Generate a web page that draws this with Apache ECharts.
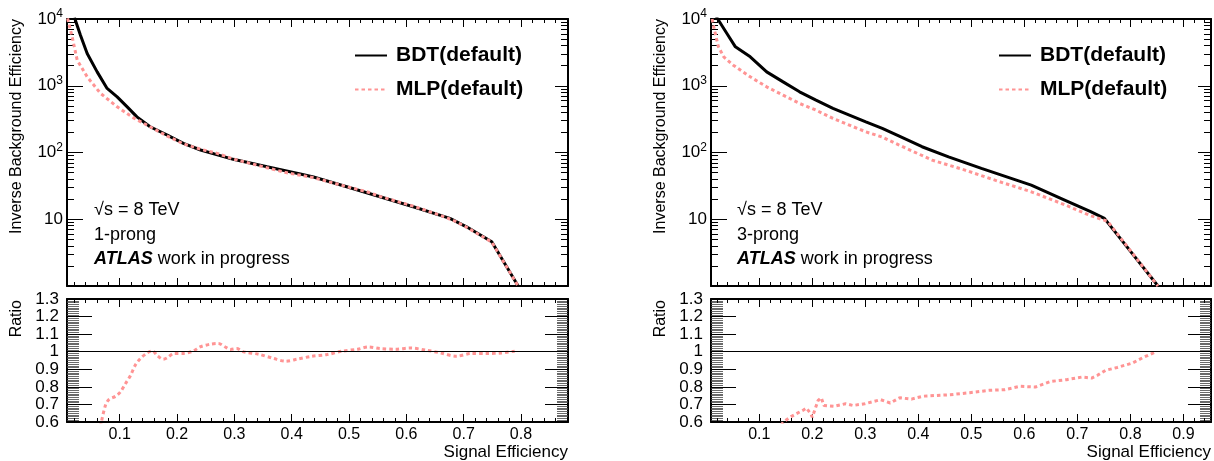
<!DOCTYPE html>
<html>
<head>
<meta charset="utf-8">
<script src="https://cdn.jsdelivr.net/npm/echarts@6/dist/echarts.min.js"></script>
<style>
html, body { margin: 0; padding: 0; background: #fff; }
#chart { width: 1214px; height: 461px; }
</style>
</head>
<body>
<div id="chart"></div>
<script>
// ---- data ----
// 1-prong
const bdt1Eff = [0.021, 0.0315, 0.0432, 0.0606, 0.078, 0.0955, 0.113, 0.130, 0.153, 0.183, 0.211, 0.241, 0.298, 0.357, 0.415, 0.438, 0.496, 0.554, 0.612, 0.676, 0.705, 0.749, 0.795];
const bdt1Rej = [10500, 5720, 3040, 1615, 911, 682, 483, 342, 243, 182, 137, 109, 79, 61, 47.5, 43, 30.7, 21.7, 15.4, 10.3, 7.7, 4.6, 1.0];
const mlp1Eff = [0.009, 0.017, 0.0258, 0.0432, 0.0664, 0.0955, 0.124, 0.153, 0.183, 0.211, 0.241, 0.27, 0.298, 0.357, 0.39, 0.438, 0.496, 0.534, 0.554, 0.612, 0.66, 0.687, 0.705, 0.749, 0.795];
const mlp1Rej = [10200, 5400, 2420, 1360, 770, 483, 330, 243, 176, 135, 112, 97, 80, 59, 50, 42, 30.8, 25.4, 22, 15.7, 11.4, 9.2, 7.6, 4.55, 1.0];
const ratio1Eff = [0.062, 0.068, 0.075, 0.081, 0.0925, 0.101, 0.11, 0.119, 0.127, 0.136, 0.148, 0.157, 0.165, 0.176, 0.185, 0.194, 0.211, 0.229, 0.24, 0.258, 0.272, 0.284, 0.293, 0.304, 0.316, 0.342, 0.369, 0.389, 0.409, 0.435, 0.462, 0.488, 0.515, 0.534, 0.554, 0.581, 0.607, 0.634, 0.66, 0.687, 0.713, 0.74, 0.766, 0.789];
const ratio1Val = [0.5, 0.6, 0.694, 0.727, 0.746, 0.77, 0.818, 0.866, 0.923, 0.961, 0.993, 1.005, 0.98, 0.957, 0.97, 0.99, 0.99, 1.005, 1.027, 1.043, 1.047, 1.027, 1.013, 1.018, 0.999, 0.986, 0.961, 0.946, 0.957, 0.974, 0.984, 1.003, 1.014, 1.027, 1.018, 1.014, 1.021, 1.009, 0.993, 0.974, 0.99, 0.99, 0.993, 1.003];

// 3-prong
const bdt3Eff = [0.019, 0.039, 0.055, 0.083, 0.114, 0.145, 0.176, 0.207, 0.239, 0.27, 0.301, 0.332, 0.363, 0.407, 0.457, 0.519, 0.613, 0.676, 0.725, 0.751, 0.852];
const bdt3Rej = [10800, 6070, 3830, 2710, 1615, 1143, 811, 609, 457, 363, 288, 229, 177, 122, 86, 57.8, 32.5, 19.4, 13, 10.3, 1.0];
const mlp3Eff = [0.011, 0.017, 0.023, 0.033, 0.051, 0.083, 0.114, 0.145, 0.176, 0.207, 0.239, 0.27, 0.301, 0.332, 0.363, 0.426, 0.488, 0.551, 0.613, 0.676, 0.725, 0.757, 0.852];
const mlp3Rej = [10000, 6070, 3830, 2710, 2034, 1360, 963, 723, 543, 431, 324, 257, 204, 170, 130, 77, 54.5, 37, 25.8, 16.5, 11.3, 9.3, 1.0];
const ratio3Eff = [0.135, 0.1455, 0.16, 0.182, 0.189, 0.197, 0.2, 0.211, 0.217, 0.222, 0.241, 0.263, 0.277, 0.299, 0.329, 0.347, 0.365, 0.387, 0.409, 0.46, 0.497, 0.533, 0.563, 0.592, 0.621, 0.65, 0.68, 0.709, 0.727, 0.738, 0.753, 0.775, 0.804, 0.826, 0.848];
const ratio3Val = [0.55, 0.6, 0.631, 0.666, 0.679, 0.647, 0.627, 0.723, 0.738, 0.694, 0.689, 0.704, 0.694, 0.704, 0.727, 0.708, 0.738, 0.730, 0.747, 0.755, 0.767, 0.78, 0.784, 0.803, 0.799, 0.831, 0.841, 0.856, 0.85, 0.866, 0.894, 0.91, 0.936, 0.97, 0.999];

const xTicks1 = [0.1, 0.2, 0.3, 0.4, 0.5, 0.6, 0.7, 0.8];
const xTicks3 = [0.1, 0.2, 0.3, 0.4, 0.5, 0.6, 0.7, 0.8, 0.9];
const seriesNames = ['BDT(default)', 'MLP(default)'];

// ---- styling ----
const FONT = '"Liberation Sans", Arial, Helvetica, sans-serif';
const PINK = '#ff9494';

const panels = [
    { left: 67, width: 501, xMin: 0.008, xMax: 0.882, majors: xTicks1, prong: '1-prong', textX: 94, titleX: 17, legendX: 354,
      bdt: [bdt1Eff, bdt1Rej], mlp: [mlp1Eff, mlp1Rej], ratio: [ratio1Eff, ratio1Val], smooth: 0.3 },
    { left: 711, width: 500, xMin: 0.009, xMax: 0.952, majors: xTicks3, prong: '3-prong', textX: 737, titleX: 661, legendX: 998,
      bdt: [bdt3Eff, bdt3Rej], mlp: [mlp3Eff, mlp3Rej], ratio: [ratio3Eff, ratio3Val], smooth: false }
];

function pairs(xs, ys) {
    return xs.map((x, i) => [x, ys[i]]);
}

function xMinors(max) {
    const out = [];
    for (let k = 1; k * 0.02 <= max; k++) {
        if (k % 5 !== 0) out.push(Math.round(k * 2) / 100);
    }
    return out;
}

// log minor tick positions, drawn on a linear overlay axis running 0..4
const logMinors = [];
for (let n = 0; n < 4; n++) {
    for (let k = 2; k <= 9; k++) logMinors.push(n + Math.log10(k));
}

const frameLine = { show: true, onZero: false, lineStyle: { color: '#000', width: 2 } };
const noLine = { show: false, onZero: false };

function xAxisDef(gi, p, pos, ticks, len, line, labels) {
    return {
        type: 'value', gridIndex: gi, position: pos, min: p.xMin, max: p.xMax,
        splitLine: { show: false },
        axisLine: line ? frameLine : noLine,
        axisTick: { show: true, inside: true, length: len, customValues: ticks, lineStyle: { color: '#000', width: 1 } },
        axisLabel: labels ? { show: true, customValues: ticks, margin: 5, color: '#000', fontSize: 16, fontFamily: FONT } : { show: false }
    };
}

function logYDef(gi, pos, len, labels) {
    return {
        type: 'log', logBase: 10, gridIndex: gi, position: pos, min: 1, max: 10000,
        splitLine: { show: false },
        axisLine: frameLine,
        axisTick: { show: true, inside: true, length: len, lineStyle: { color: '#000', width: 1 } },
        axisLabel: labels ? {
            show: true, margin: 4, color: '#000', fontSize: 17, fontFamily: FONT,
            formatter: function (v) {
                if (v < 5) return '';
                if (v < 50) return '10';
                return '10{sup|' + Math.round(Math.log10(v)) + '}';
            },
            rich: { sup: { fontSize: 12, fontFamily: FONT, color: '#000', verticalAlign: 'top', padding: [0, 0, 10, 0] } }
        } : { show: false }
    };
}

function minorYDef(gi, pos, len) {
    return {
        type: 'value', gridIndex: gi, position: pos, min: 0, max: 4,
        splitLine: { show: false }, axisLine: noLine, axisLabel: { show: false },
        axisTick: { show: true, inside: true, length: len, customValues: logMinors, lineStyle: { color: '#000', width: 1 } }
    };
}

function ratioYDef(gi, pos, len, minorLen, labels) {
    return {
        type: 'value', gridIndex: gi, position: pos, min: 0.6, max: 1.3, interval: 0.1,
        splitLine: { show: false },
        axisLine: frameLine,
        axisTick: { show: true, inside: true, length: len, lineStyle: { color: '#000', width: 1 } },
        minorTick: { show: true, splitNumber: 10, length: minorLen, lineStyle: { color: '#444', width: 0.8 } },
        minorSplitLine: { show: false },
        axisLabel: labels ? { show: true, margin: 8, color: '#000', fontSize: 17, fontFamily: FONT } : { show: false }
    };
}

const grids = [], xAxes = [], yAxes = [], series = [], graphics = [], legends = [];

panels.forEach(function (p, pi) {
    const gTop = grids.length;
    grids.push({ left: p.left, top: 19, width: p.width, height: 267 });
    const gRat = grids.length;
    grids.push({ left: p.left, top: 299, width: p.width, height: 123 });

    const minors = xMinors(p.xMax);

    // top pad axes
    const xTop = xAxes.length;
    xAxes.push(xAxisDef(gTop, p, 'bottom', p.majors, 8, true, false));
    xAxes.push(xAxisDef(gTop, p, 'bottom', minors, 4, false, false));
    xAxes.push(xAxisDef(gTop, p, 'top', p.majors, 8, true, false));
    xAxes.push(xAxisDef(gTop, p, 'top', minors, 4, false, false));
    const yTop = yAxes.length;
    yAxes.push(logYDef(gTop, 'left', 16, true));
    yAxes.push(logYDef(gTop, 'right', 13, false));
    yAxes.push(minorYDef(gTop, 'left', 7));
    yAxes.push(minorYDef(gTop, 'right', 7));

    // ratio pad axes
    const xRat = xAxes.length;
    xAxes.push(xAxisDef(gRat, p, 'bottom', p.majors, 8, true, true));
    xAxes.push(xAxisDef(gRat, p, 'bottom', minors, 4, false, false));
    xAxes.push(xAxisDef(gRat, p, 'top', p.majors, 8, true, false));
    xAxes.push(xAxisDef(gRat, p, 'top', minors, 4, false, false));
    const yRat = yAxes.length;
    yAxes.push(ratioYDef(gRat, 'left', 25, 12, true));
    yAxes.push(ratioYDef(gRat, 'right', 23, 11, false));

    series.push({
        name: seriesNames[0], type: 'line', xAxisIndex: xTop, yAxisIndex: yTop,
        data: pairs(p.bdt[0], p.bdt[1]), symbol: 'none', showSymbol: false,
        lineStyle: { color: '#000', width: 3 }, itemStyle: { color: '#000' }
    });
    series.push({
        name: seriesNames[1], type: 'line', xAxisIndex: xTop, yAxisIndex: yTop,
        data: pairs(p.mlp[0], p.mlp[1]), symbol: 'none', showSymbol: false,
        lineStyle: { color: PINK, width: 3, type: [3.5, 3] }, itemStyle: { color: PINK }
    });
    series.push({
        name: 'ratio' + pi, type: 'line', xAxisIndex: xRat, yAxisIndex: yRat,
        data: pairs(p.ratio[0], p.ratio[1]), symbol: 'none', showSymbol: false, smooth: p.smooth,
        lineStyle: { color: PINK, width: 3, type: [3.5, 3] }, itemStyle: { color: PINK },
        markLine: {
            silent: true, symbol: ['none', 'none'], label: { show: false },
            lineStyle: { color: '#000', width: 1, type: 'solid' },
            data: [{ yAxis: 1 }]
        }
    });

    legends.push({
        left: p.legendX, top: 45, padding: 0, orient: 'vertical', itemWidth: 32, itemHeight: 14, itemGap: 13,
        data: seriesNames,
        itemStyle: { color: 'rgba(0,0,0,0)', borderColor: 'rgba(0,0,0,0)', borderWidth: 0, opacity: 0 },
        textStyle: { fontSize: 21, fontWeight: 'bold', fontFamily: FONT, color: '#000', padding: [0, 0, 0, 4] }
    });

    const txt = { fontSize: 18, fontFamily: FONT, fill: '#000', verticalAlign: 'middle' };
    graphics.push({ type: 'text', x: p.textX, y: 210, style: Object.assign({ text: '\u221As = 8 TeV' }, txt) });
    graphics.push({ type: 'text', x: p.textX, y: 235, style: Object.assign({ text: p.prong }, txt) });
    graphics.push({
        type: 'text', x: p.textX, y: 259,
        style: Object.assign({
            text: '{b|ATLAS} work in progress',
            rich: { b: { fontSize: 18, fontFamily: FONT, fontWeight: 'bold', fontStyle: 'italic', fill: '#000' } }
        }, txt)
    });
    graphics.push({
        type: 'text', x: p.titleX, y: 19, rotation: Math.PI / 2,
        style: { text: 'Inverse Background Efficiency', fontSize: 16, fontFamily: FONT, fill: '#000', align: 'right', verticalAlign: 'middle' }
    });
    graphics.push({
        type: 'text', x: p.titleX, y: 300, rotation: Math.PI / 2,
        style: { text: 'Ratio', fontSize: 16, fontFamily: FONT, fill: '#000', align: 'right', verticalAlign: 'middle' }
    });
    graphics.push({
        type: 'text', x: p.left + p.width, y: 452,
        style: { text: 'Signal Efficiency', fontSize: 17, fontFamily: FONT, fill: '#000', align: 'right', verticalAlign: 'middle' }
    });
});

const myChart = echarts.init(document.getElementById('chart'), null, { renderer: 'canvas' });
myChart.setOption({
    animation: false,
    backgroundColor: '#fff',
    textStyle: { fontFamily: FONT },
    grid: grids,
    xAxis: xAxes,
    yAxis: yAxes,
    legend: legends,
    series: series,
    graphic: graphics
});
</script>
</body>
</html>
